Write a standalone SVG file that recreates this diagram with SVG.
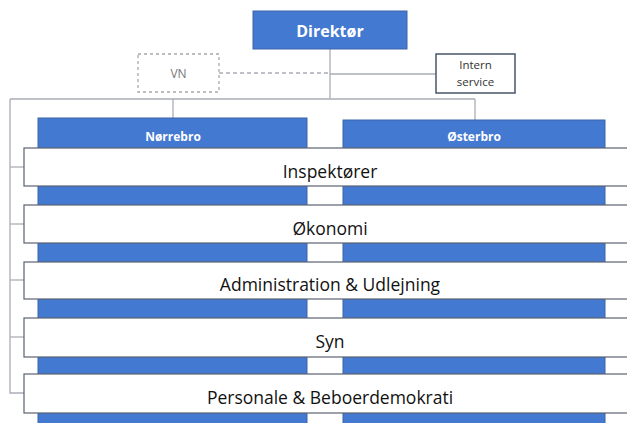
<svg xmlns="http://www.w3.org/2000/svg" width="627" height="423" viewBox="0 0 627 423">
<style>
.blue{fill:#4379d1;stroke:#3a64a8;stroke-width:1}
.bar{fill:#ffffff;stroke:#5a6270;stroke-width:1.2}
.ln{stroke:#a9adb5;stroke-width:1.3;fill:none}
.wt{font-family:"Open Sans","Liberation Sans",sans-serif;fill:#ffffff;text-anchor:middle}
.bt{font-family:"Open Sans","Liberation Sans",sans-serif;fill:#111111;font-size:17.5px;text-anchor:middle}
</style>
<rect width="627" height="423" fill="#ffffff"/>
<g id="connectors">
<line class="ln" x1="330" y1="49" x2="330" y2="99"/>
<line class="ln" x1="10" y1="99" x2="475" y2="99"/>
<line class="ln" x1="173" y1="99" x2="173" y2="118"/>
<line class="ln" x1="475" y1="99" x2="475" y2="120"/>
<line class="ln" x1="219" y1="73" x2="330" y2="73" stroke-dasharray="4,3"/>
<line class="ln" x1="330" y1="74" x2="436" y2="74"/>
<polyline class="ln" points="10,99 10,393 24,393"/>
<line class="ln" x1="10" y1="167" x2="24" y2="167"/>
<line class="ln" x1="10" y1="224" x2="24" y2="224"/>
<line class="ln" x1="10" y1="280" x2="24" y2="280"/>
<line class="ln" x1="10" y1="337" x2="24" y2="337"/>
</g>
<g id="direktor">
<rect class="blue" x="253" y="11" width="154" height="38"/>
<text class="wt" x="330" y="37" font-size="16" font-weight="bold">Direktør</text>
</g>
<g id="vn">
<rect x="138" y="54" width="81" height="38" fill="#ffffff" stroke="#a8a8a8" stroke-width="1.3" stroke-dasharray="3,3"/>
<text x="178.5" y="78" font-family="Open Sans, Liberation Sans, sans-serif" font-size="12" fill="#777777" text-anchor="middle">VN</text>
</g>
<g id="intern-service">
<rect x="436" y="54" width="79" height="39" fill="#ffffff" stroke="#4a5568" stroke-width="1.5"/>
<text x="475.5" y="69" font-family="Open Sans, Liberation Sans, sans-serif" font-size="11.5" fill="#333333" text-anchor="middle">Intern</text>
<text x="475.5" y="86" font-family="Open Sans, Liberation Sans, sans-serif" font-size="11.5" fill="#333333" text-anchor="middle">service</text>
</g>
<g id="norrebro">
<rect class="blue" x="38" y="118" width="269" height="320"/>
<text class="wt" x="173" y="141" font-size="12" font-weight="bold">Nørrebro</text>
</g>
<g id="osterbro">
<rect class="blue" x="343" y="120" width="262" height="320"/>
<text class="wt" x="474" y="141" font-size="12" font-weight="bold">Østerbro</text>
</g>
<g id="inspektorer">
<rect class="bar" x="24" y="148" width="620" height="38"/>
<text class="bt" x="330" y="178">Inspektører</text>
</g>
<g id="okonomi">
<rect class="bar" x="24" y="205" width="620" height="38"/>
<text class="bt" x="330" y="235">Økonomi</text>
</g>
<g id="administration">
<rect class="bar" x="24" y="262" width="620" height="37"/>
<text class="bt" x="330" y="291">Administration &amp; Udlejning</text>
</g>
<g id="syn">
<rect class="bar" x="24" y="318" width="620" height="39"/>
<text class="bt" x="330" y="348">Syn</text>
</g>
<g id="personale">
<rect class="bar" x="24" y="374" width="620" height="39"/>
<text class="bt" x="330" y="404">Personale &amp; Beboerdemokrati</text>
</g>
</svg>
